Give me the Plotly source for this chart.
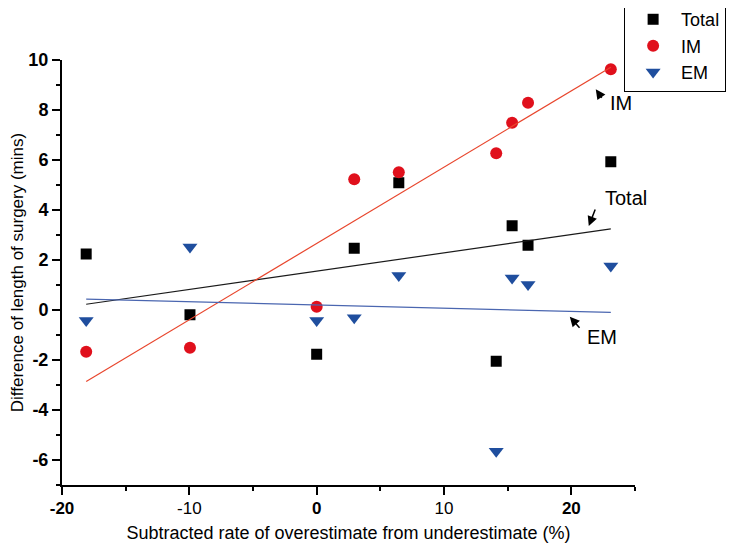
import numpy as np
import plotly.graph_objects as go

# rate difference (%) shared by all three series
rate = [-18.1, -9.95, 0.0, 2.95, 6.45, 14.1, 15.35, 16.6, 23.1]

total = [2.24, -0.19, -1.77, 2.47, 5.09, -2.05, 3.37, 2.59, 5.93]
im = [-1.67, -1.51, 0.13, 5.23, 5.51, 6.27, 7.49, 8.29, 9.63]
em = [-0.42, 2.52, -0.42, -0.31, 1.38, -5.65, 1.28, 1.02, 1.76]

x_ticks = [-20, -10, 0, 10, 20]
x_ticktext = ["<b>-20</b>", "-10", "<b>0</b>", "10", "<b>20</b>"]
y_ticks = [-6, -4, -2, 0, 2, 4, 6, 8, 10]
y_ticktext = ["-6", "-4", "-2", "0", "2", "4", "6", "8", "10"]

FONT = "Arial, Liberation Sans, sans-serif"

series = [
    ("Total", total, "square", "#000000", "#1a1a1a", 11),
    ("IM", im, "circle", "#e0101c", "#e8452c", 12),
    ("EM", em, "triangle-down", "#1f4e9e", "#4a66b0", 13),
]

fig = go.Figure()

xs = np.array(rate)
for name, vals, symbol, col, line_col, size in series:
    fig.add_trace(go.Scatter(
        x=rate, y=vals, mode="markers", name=name,
        marker=dict(symbol=symbol, color=col, size=size, line=dict(width=0)),
    ))
    # linear fit over the data range
    k, b = np.polyfit(xs, np.array(vals), 1)
    xl = np.array([xs.min(), xs.max()])
    fig.add_trace(go.Scatter(
        x=xl, y=k * xl + b, mode="lines", showlegend=False,
        line=dict(color=line_col, width=1.2), hoverinfo="skip",
    ))

# labels with small arrows pointing at the fitted lines
labels = [
    ("IM", (23.9, 8.28), (21.92, 8.83), (22.47, 8.43)),
    ("Total", (24.3, 4.48), (21.37, 3.36), (21.92, 4.08)),
    ("EM", (22.4, -1.08), (19.88, -0.27), (20.75, -0.77)),
]
for text, (tx, ty), (hx, hy), (sx, sy) in labels:
    fig.add_annotation(x=tx, y=ty, text=text, showarrow=False,
                       font=dict(family=FONT, size=20, color="black"))
    fig.add_annotation(x=hx, y=hy, ax=sx, ay=sy, axref="x", ayref="y",
                       text="", showarrow=True, arrowhead=2, arrowsize=1.3,
                       arrowwidth=1.5, arrowcolor="black")

# page body has an 8px margin, so the figure is a bit smaller than the window
fig.update_layout(
    width=734, height=535,
    margin=dict(l=54, r=107, t=52, b=58, autoexpand=False),
    paper_bgcolor="white", plot_bgcolor="white",
    font=dict(family=FONT, color="black"),
    legend=dict(
        x=0.981, y=1.141, xanchor="left", yanchor="top",
        bordercolor="black", borderwidth=1, bgcolor="white",
        font=dict(size=18), itemwidth=46,
    ),
    xaxis=dict(
        range=[-20, 25], showgrid=False, zeroline=False, automargin=False,
        showline=True, linecolor="black", linewidth=2,
        ticks="outside", ticklen=8, tickwidth=2, tickcolor="black",
        tickvals=x_ticks, ticktext=x_ticktext,
        tickfont=dict(size=17), ticklabelstandoff=-1,
        minor=dict(dtick=5, ticks="outside", ticklen=4, tickwidth=2, tickcolor="black", showgrid=False),
        title=dict(text="Subtracted rate of overestimate from underestimate (%)",
                   font=dict(size=18), standoff=12),
    ),
    yaxis=dict(
        range=[-7, 10], showgrid=False, zeroline=False, automargin=False,
        showline=True, linecolor="black", linewidth=2,
        ticks="outside", ticklen=8, tickwidth=2, tickcolor="black",
        tickvals=y_ticks, ticktext=y_ticktext,
        tickfont=dict(size=18, weight="bold"),
        minor=dict(dtick=1, ticks="outside", ticklen=4, tickwidth=2, tickcolor="black", showgrid=False),
        title=dict(text="Difference of length of surgery (mins)",
                   font=dict(size=17), standoff=10),
    ),
)

fig.write_html("out.html")
